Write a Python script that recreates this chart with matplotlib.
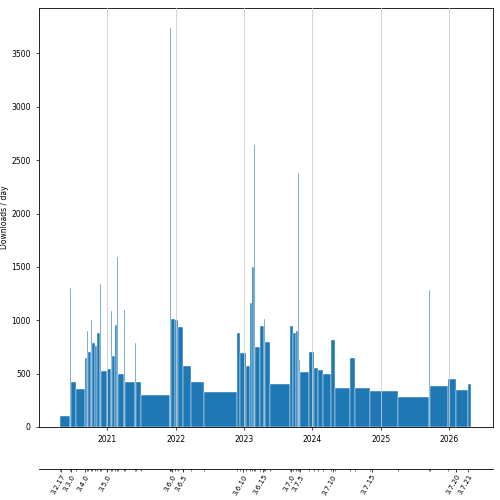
import matplotlib
matplotlib.use("Agg")
import matplotlib.pyplot as plt
import numpy as np

# release start (decimal year) and downloads/day while that release was current
starts = [2020.309, 2020.456, 2020.465, 2020.535, 2020.674, 2020.706, 2020.718, 2020.759,
          2020.769, 2020.813, 2020.849, 2020.889, 2020.901, 2020.988, 2021.054, 2021.069,
          2021.113, 2021.142, 2021.151, 2021.237, 2021.251, 2021.405, 2021.415, 2021.485,
          2021.914, 2021.921, 2021.931, 2021.990, 2022.038, 2022.107, 2022.224, 2022.418,
          2022.896, 2022.940, 2023.025, 2023.086, 2023.115, 2023.148, 2023.155, 2023.228,
          2023.291, 2023.300, 2023.376, 2023.675, 2023.711, 2023.754, 2023.785, 2023.797,
          2023.817, 2023.953, 2024.018, 2024.083, 2024.156, 2024.278, 2024.332, 2024.551,
          2024.624, 2024.848, 2025.257, 2025.703, 2025.718, 2025.988, 2026.098, 2026.278]
end = 2026.327
rates = [105, 1300, 420, 357, 645, 900, 700, 1000,
         790, 755, 880, 1340, 520, 545, 1085, 665,
         955, 1590, 495, 1100, 425, 790, 425, 300,
         2420, 3740, 1010, 1000, 935, 570, 425, 330,
         880, 690, 570, 1165, 1500, 2640, 750, 945,
         1010, 800, 405, 945, 880, 900, 2380, 630,
         515, 700, 555, 530, 495, 815, 370, 650,
         370, 340, 285, 1280, 380, 450, 345, 405]

version_labels = ["3.2.17", "3.3.0", "3.4.0", "3.5.0", "3.6.0", "3.6.5", "3.6.10",
                  "3.6.15", "3.7.0", "3.7.5", "3.7.10", "3.7.15", "3.7.20", "3.7.21"]
version_pos = [2020.318, 2020.465, 2020.674, 2021.0, 2021.942, 2022.111, 2022.988,
               2023.281, 2023.686, 2023.817, 2024.296, 2024.866, 2026.108, 2026.278]
years = [2021, 2022, 2023, 2024, 2025, 2026]

edges = np.array(starts + [end])
widths = np.diff(edges)

fig = plt.figure(figsize=(5, 5), dpi=100)
ax = fig.add_axes([0.077, 0.146, 0.908, 0.839])
ax.bar(starts, rates, width=widths, align="edge", color="#1f77b4",
       edgecolor="white", linewidth=0.3)
for y in years:
    ax.axvline(y, color="#cccccc", lw=0.6, zorder=3)
ax.set_xlim(2019.991, 2026.635)
ax.set_ylim(0, 3930)
ax.set_xticks(years)
ax.set_xticklabels([str(y) for y in years])
ax.set_ylabel("Downloads / day", fontsize=5.5)
ax.yaxis.set_label_coords(-0.064, 0.5)
ax.tick_params(labelsize=5.5, length=2, width=0.5)
for s in ax.spines.values():
    s.set_linewidth(0.6)

ax2 = ax.twiny()
ax2.set_xlim(ax.get_xlim())
ax2.xaxis.set_ticks_position("bottom")
ax2.xaxis.set_label_position("bottom")
ax2.spines["bottom"].set_position(("outward", 30))
for k in ["top", "left", "right"]:
    ax2.spines[k].set_visible(False)
ax2.spines["bottom"].set_linewidth(0.6)
ax2.set_xticks(version_pos)
ax2.set_xticklabels(version_labels, rotation=60, ha="right", rotation_mode="anchor")
ax2.set_xticks(starts, minor=True)
ax2.tick_params(labelsize=5, length=2, width=0.5, pad=1.5)
ax2.tick_params(which="minor", length=1.5, width=0.4)

fig.savefig("out.png", dpi=100)
